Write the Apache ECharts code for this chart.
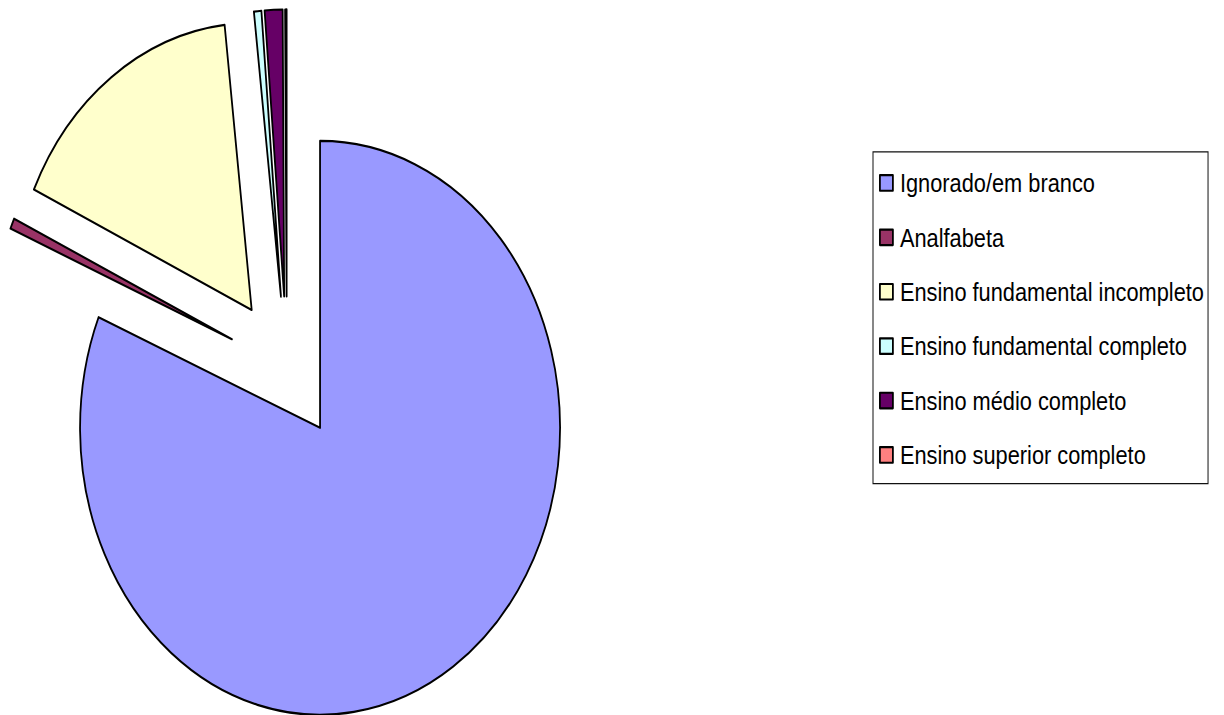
<!DOCTYPE html>
<html>
<head>
<meta charset="utf-8">
<script src="https://cdn.jsdelivr.net/npm/echarts@6.0.0/dist/echarts.min.js"></script>
<style>
  html, body { margin: 0; padding: 0; background: #fff; width: 1224px; height: 715px; overflow: hidden; }
  #chart { width: 1224px; height: 598px; transform: scaleY(1.19565); transform-origin: 0 0; }
</style>
</head>
<body>
<div id="chart"></div>
<script>
const categories = [
  'Ignorado/em branco',
  'Analfabeta',
  'Ensino fundamental incompleto',
  'Ensino fundamental completo',
  'Ensino médio completo',
  'Ensino superior completo'
];
const values = [81.3, 0.6, 16.3, 0.5, 1.2, 0.1];
const colors = ['#9999FF', '#993366', '#FFFFCC', '#CCFFFF', '#660066', '#FF8080'];

const chart = echarts.init(document.getElementById('chart'), null, { renderer: 'svg' });
chart.setOption({
  animation: false,
  backgroundColor: '#ffffff',
  color: colors,
  legend: {
    orient: 'vertical',
    left: 873,
    top: 127,
    padding: [14, 4, 12, 6],
    borderColor: '#111',
    borderWidth: 1,
    itemWidth: 13,
    itemHeight: 13,
    itemGap: 21.5,
    icon: 'rect',
    selectedMode: false,
    itemStyle: { borderColor: '#000', borderWidth: 1.8 },
    textStyle: { fontFamily: 'Liberation Sans, Arial, sans-serif', fontSize: 21.8, lineHeight: 24, color: '#000', padding: [0, 0, 0, 2] },
    data: categories
  },
  series: [{
    type: 'pie',
    center: [286.8, 307.9],
    radius: 240,
    startAngle: 90,
    clockwise: true,
    selectedMode: 'multiple',
    selectedOffset: 60,
    avoidLabelOverlap: false,
    label: { show: false },
    labelLine: { show: false },
    emphasis: { disabled: true, scale: false },
    select: { itemStyle: { borderColor: '#000', borderWidth: 1.8 } },
    itemStyle: { borderColor: '#000', borderWidth: 1.8 },
    data: categories.map((c, i) => ({ name: c, value: values[i], selected: true }))
  }]
});
</script>
</body>
</html>
